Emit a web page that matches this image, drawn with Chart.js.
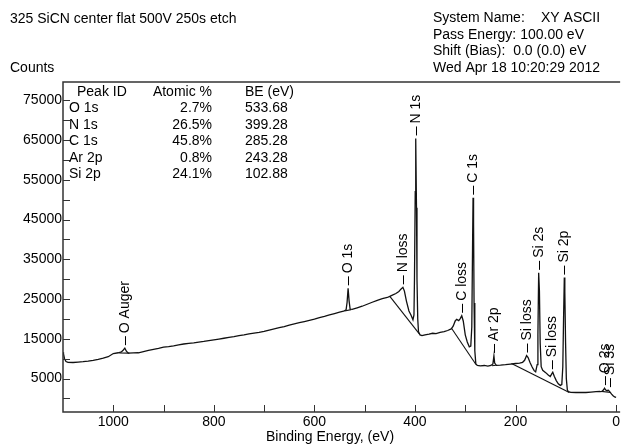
<!DOCTYPE html>
<html>
<head>
<meta charset="utf-8">
<script src="https://cdn.jsdelivr.net/npm/chart.js@4.4.0/dist/chart.umd.min.js"></script>
<style>
  html, body { margin: 0; padding: 0; background: #fff; }
  #xps { display: block; }
</style>
</head>
<body>
<canvas id="xps" width="622" height="445"></canvas>
<script>
// survey spectrum, binding energy (eV) and counts
const spectrumBE = [1100, 1099, 1097, 1094, 1090, 1080, 1070, 1060, 1050, 1040, 1030, 1020, 1010, 1000,
  990, 984, 980, 977, 974, 970, 960, 950, 940, 930, 920, 910, 900, 890, 880, 870, 860, 850, 840, 830,
  820, 810, 800, 790, 780, 770, 760, 750, 740, 730, 720, 710, 700, 690, 680, 670, 660, 650, 640, 630,
  620, 610, 600, 590, 580, 570, 560, 550, 542, 537, 535, 533, 531, 529, 525, 515, 505, 495, 485, 475,
  465, 455, 450, 445, 438, 432, 428, 424, 421, 417, 412, 408, 404, 402, 401, 399.5, 398.5, 397, 396,
  394.5, 393, 390, 386, 380, 372, 365, 358, 350, 342, 335, 328, 324, 320, 317, 313, 310, 307, 304, 300,
  296, 292, 289, 287, 285.5, 284.5, 283.5, 282.5, 281, 279, 276, 270, 262, 255, 249, 245, 243, 241.5,
  238, 230, 220, 210, 200, 192, 186, 182, 178, 175, 171, 167, 163, 160, 157, 155.5, 154, 152.5, 151,
  149, 146, 140, 135, 131, 128, 126, 123, 119, 115, 111, 108, 106, 104.5, 103, 102, 100.5, 99, 97, 95,
  90, 80, 70, 60, 50, 40, 32, 28, 25, 23, 21, 18, 16, 14, 12, 9, 6, 3, 0];
const spectrumCounts = [11600, 11200, 10000, 9300, 9100, 9050, 9150, 9250, 9400, 9600, 9850, 10150, 10500, 11300,
  11500, 11700, 12200, 12650, 11900, 11400, 11450, 11500, 11800, 12100, 12350, 12600, 12900, 13050, 13250, 13500, 13700, 13850, 14000, 14200,
  14350, 14550, 14750, 14950, 15150, 15350, 15550, 15800, 16000, 16250, 16450, 16650, 16900, 17200, 17500, 17800, 18100, 18450, 18750, 19050,
  19350, 19650, 19950, 20350, 20650, 21000, 21350, 21700, 21950, 22300, 24200, 27700, 24500, 22500, 22400, 22800, 23200, 23700, 24200, 24700,
  25100, 25400, 25700, 26000, 26400, 26900, 27500, 27950, 27000, 24500, 22000, 21000, 19800, 21000, 30000, 52000, 65400, 48000, 30000,
  20000, 16800, 16000, 15800, 16000, 16200, 16400, 16300, 16600, 16800, 17100, 17500, 18200, 19500, 19900, 19600, 20100, 20800, 19500, 16000,
  14200, 13000, 13200, 18000, 38000, 50500, 44000, 24000, 12000, 8700, 8300, 8200, 8300, 8150, 8300, 8700, 10700, 8900,
  8350, 8400, 8500, 8650, 8800, 8900, 9100, 9600, 10800, 10300, 9000, 7900, 7000, 6700, 8500, 16000, 31600, 27000, 14000,
  8000, 7100, 6500, 5900, 5500, 6200, 6600, 5600, 4500, 3700, 3300, 3500, 8000, 20000, 30400, 27000, 14000, 5000, 2200, 1700,
  1550, 1500, 1550, 1500, 1600, 1700, 1750, 1800, 2200, 2600, 2200, 1900, 2100, 1900, 1600, 1100, 700, 400, 300];

// straight backgrounds under the identified peaks: [start, end]
const backgroundBE = [[988, 968], [540, 527], [450, 391], [327, 279], [247, 239], [208, 93], [29, 11]];
const backgroundCounts = [[11450, 11400], [22000, 22350], [25700, 16200], [17600, 8600], [8250, 8350], [8800, 1500], [1780, 1500]];

// peak markers
const markerText = ['O Auger', 'O 1s', 'N loss', 'N 1s', 'C loss', 'C 1s', 'Ar 2p', 'Si loss', 'Si 2s', 'Si loss', 'Si 2p', 'O 2s', 'Si 3s'];
const markerBE = [977, 533, 424, 398.5, 307, 284.5, 242, 177, 153.5, 127, 103, 22, 12];
const markerCounts = [12650, 27700, 27950, 65400, 20800, 50500, 10700, 10800, 31600, 6600, 30400, 2600, 2100];

// quantification table
const peakIds = ['O 1s', 'N 1s', 'C 1s', 'Ar 2p', 'Si 2p'];
const atomicPct = ['2.7%', '26.5%', '45.8%', '0.8%', '24.1%'];
const peakBE = ['533.68', '399.28', '285.28', '243.28', '102.88'];

// axis ticks
const xMajor = [1000, 800, 600, 400, 200, 0];
const xMinor = [900, 700, 500, 300, 100];
const yMajor = [75000, 65000, 55000, 45000, 35000, 25000, 15000, 5000];
const yMinor = [70000, 60000, 50000, 40000, 30000, 20000, 10000, 0];

const FONT = '14px "Liberation Sans", Arial, sans-serif';

function pts(xs, ys) { return xs.map((x, i) => ({ x: x, y: ys[i] })); }

const datasets = [{
  data: pts(spectrumBE, spectrumCounts),
  borderColor: '#111', borderWidth: 1.3
}];
backgroundBE.forEach((seg, i) => {
  datasets.push({ data: pts(seg, backgroundCounts[i]), borderColor: '#111', borderWidth: 1.1 });
});

const deco = {
  id: 'deco',
  afterDraw(chart) {
    const ctx = chart.ctx, a = chart.chartArea;
    const xs = chart.scales.x, ys = chart.scales.y;
    ctx.save();

    // frame
    ctx.strokeStyle = '#333';
    ctx.lineWidth = 1.5;
    ctx.beginPath();
    ctx.moveTo(a.right, a.top);
    ctx.lineTo(a.left, a.top);
    ctx.lineTo(a.left, a.bottom);
    ctx.lineTo(a.right, a.bottom);
    ctx.stroke();

    // inward ticks
    ctx.lineWidth = 1;
    ctx.beginPath();
    xMajor.concat(xMinor).forEach(v => {
      const px = Math.round(xs.getPixelForValue(v)) + 0.5;
      ctx.moveTo(px, a.bottom);
      ctx.lineTo(px, a.bottom - 7);
    });
    yMajor.concat(yMinor).forEach(v => {
      const py = Math.round(ys.getPixelForValue(v)) + 0.5;
      ctx.moveTo(a.left, py);
      ctx.lineTo(a.left + 7, py);
    });
    ctx.stroke();

    // peak markers
    ctx.fillStyle = '#000';
    ctx.strokeStyle = '#000';
    ctx.font = FONT;
    markerText.forEach((t, i) => {
      const px = Math.round(xs.getPixelForValue(markerBE[i])) + 0.5;
      const py = ys.getPixelForValue(markerCounts[i]);
      ctx.beginPath();
      ctx.moveTo(px, py - 3);
      ctx.lineTo(px, py - 12);
      ctx.stroke();
      ctx.save();
      ctx.translate(px, py - 15);
      ctx.rotate(-Math.PI / 2);
      ctx.textAlign = 'left';
      ctx.textBaseline = 'middle';
      ctx.fillText(t, 0, 0);
      ctx.restore();
    });

    // header
    ctx.textBaseline = 'alphabetic';
    ctx.textAlign = 'left';
    ctx.fillText('325 SiCN center flat 500V 250s etch', 10, 23);
    ctx.fillText('Counts', 10, 72);
    ctx.fillText('System Name:', 433, 22);
    ctx.fillText('XY ASCII', 541, 22);
    ctx.fillText('Pass Energy: 100.00 eV', 433, 38.5);
    ctx.fillText('Shift (Bias):  0.0 (0.0) eV', 433, 55);
    ctx.fillText('Wed Apr 18 10:20:29 2012', 433, 71.5);

    // table
    ctx.fillText('Peak ID', 77, 96);
    ctx.fillText('BE (eV)', 245, 96);
    ctx.textAlign = 'right';
    ctx.fillText('Atomic %', 212, 96);
    peakIds.forEach((id, i) => {
      const by = 96 + 16.4 * (i + 1);
      ctx.textAlign = 'left';
      ctx.fillText(id, 69, by);
      ctx.fillText(peakBE[i], 245, by);
      ctx.textAlign = 'right';
      ctx.fillText(atomicPct[i], 212, by);
    });

    // x axis title
    ctx.textAlign = 'center';
    ctx.fillText('Binding Energy, (eV)', 330, 441);
    ctx.restore();
  }
};

new Chart(document.getElementById('xps'), {
  type: 'scatter',
  data: { datasets: datasets },
  options: {
    responsive: false,
    animation: false,
    devicePixelRatio: 1,
    layout: { padding: { top: 82, right: 0, left: 0, bottom: 0 } },
    elements: { point: { radius: 0 }, line: { tension: 0 } },
    datasets: { scatter: { showLine: true, pointRadius: 0 } },
    plugins: { legend: { display: false }, tooltip: { enabled: false } },
    scales: {
      x: {
        type: 'linear', reverse: true, min: -8, max: 1100,
        border: { display: false },
        grid: { display: false, drawTicks: false },
        afterBuildTicks: s => { s.ticks = xMajor.map(v => ({ value: v })); },
        afterFit: s => { s.height = 33; },
        ticks: { color: '#000', font: { family: '"Liberation Sans", Arial, sans-serif', size: 14 }, padding: 2, maxRotation: 0, autoSkip: false, callback: v => String(v) }
      },
      y: {
        type: 'linear', min: -3400, max: 79600,
        border: { display: false },
        grid: { display: false, drawTicks: false },
        afterBuildTicks: s => { s.ticks = yMajor.map(v => ({ value: v })); },
        afterFit: s => { s.width = 63; },
        ticks: { color: '#000', font: { family: '"Liberation Sans", Arial, sans-serif', size: 14 }, padding: 1, autoSkip: false, callback: v => String(v) }
      }
    }
  },
  plugins: [deco]
});
</script>
</body>
</html>
